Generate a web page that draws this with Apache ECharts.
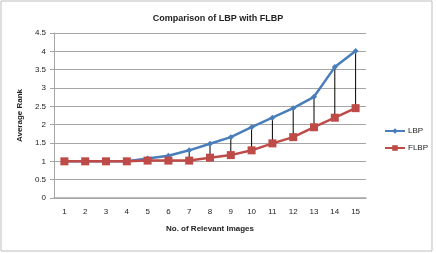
<!DOCTYPE html>
<html>
<head>
<meta charset="utf-8">
<script src="https://cdn.jsdelivr.net/npm/echarts@6/dist/echarts.min.js"></script>
<style>
  html, body { margin: 0; padding: 0; background: #fff; }
  #main { width: 436px; height: 253px; }
</style>
</head>
<body>
<div id="main"></div>
<script>
// relevant images on x, average rank on y
var images = ['1', '2', '3', '4', '5', '6', '7', '8', '9', '10', '11', '12', '13', '14', '15'];
var lbp = [1, 1, 1, 1, 1.08, 1.15, 1.3, 1.48, 1.66, 1.93, 2.19, 2.45, 2.76, 3.57, 4.01];
var flbp = [1, 1, 1, 1, 1.02, 1.02, 1.02, 1.1, 1.17, 1.3, 1.49, 1.66, 1.93, 2.19, 2.45];

var font = 'Liberation Sans';

var chart = echarts.init(document.getElementById('main'));

var option = {
  animation: false,
  title: {
    text: 'Comparison of LBP with FLBP',
    left: 'center',
    top: 9,
    textStyle: { fontFamily: font, fontSize: 9, fontWeight: 'bold', color: '#222' }
  },
  legend: {
    orient: 'vertical',
    left: 379,
    top: 122,
    itemGap: 9,
    itemWidth: 20,
    itemHeight: 7,
    data: ['LBP', 'FLBP'],
    textStyle: { fontFamily: font, fontSize: 8, color: '#222', padding: [0, 0, 0, -2] }
  },
  graphic: [{
    type: 'rect',
    shape: { x: 1, y: 1, width: 431, height: 250 },
    style: { fill: 'none', stroke: '#bdbdbd', lineWidth: 1 },
    silent: true
  }],
  grid: { left: 54, right: 70, top: 33, bottom: 55 },
  xAxis: {
    type: 'category',
    data: images,
    boundaryGap: true,
    name: 'No. of Relevant Images',
    nameLocation: 'middle',
    nameGap: 27,
    nameTextStyle: { fontFamily: font, fontSize: 8, fontWeight: 'bold', color: '#222' },
    axisLine: { lineStyle: { color: '#a6a6a6', width: 1.5 } },
    axisTick: { show: false },
    axisLabel: { fontFamily: font, fontSize: 8, color: '#222', margin: 10 }
  },
  yAxis: {
    type: 'value',
    min: 0,
    max: 4.5,
    interval: 0.5,
    name: 'Average Rank',
    nameLocation: 'middle',
    nameGap: 30,
    nameRotate: 90,
    nameTextStyle: { fontFamily: font, fontSize: 8, fontWeight: 'bold', color: '#222' },
    axisLine: { show: true, lineStyle: { color: '#a6a6a6', width: 1 } },
    axisTick: { show: true, length: 4, lineStyle: { color: '#a6a6a6' } },
    axisLabel: { fontFamily: font, fontSize: 8, color: '#222', margin: 8 },
    splitLine: { lineStyle: { color: '#a6a6a6', width: 1 } }
  },
  series: [
    {
      name: 'drop',
      type: 'custom',
      silent: true,
      z: 1,
      data: lbp.map(function (v, i) { return [i, v, flbp[i]]; }),
      renderItem: function (params, api) {
        var a = api.coord([api.value(0), api.value(1)]);
        var b = api.coord([api.value(0), api.value(2)]);
        return {
          type: 'line',
          shape: { x1: a[0], y1: a[1], x2: b[0], y2: b[1] },
          style: { stroke: '#000', lineWidth: 1 }
        };
      }
    },
    {
      name: 'LBP',
      type: 'line',
      data: lbp,
      z: 3,
      symbol: 'diamond',
      symbolSize: 6,
      color: '#4a7ebb',
      lineStyle: { width: 2.5, color: '#4a7ebb' },
      itemStyle: { color: '#4a7ebb' }
    },
    {
      name: 'FLBP',
      type: 'line',
      data: flbp,
      z: 4,
      symbol: 'rect',
      symbolSize: 8,
      color: '#be4b48',
      lineStyle: { width: 2.5, color: '#be4b48' },
      itemStyle: { color: '#be4b48' }
    }
  ]
};

chart.setOption(option);
</script>
</body>
</html>
